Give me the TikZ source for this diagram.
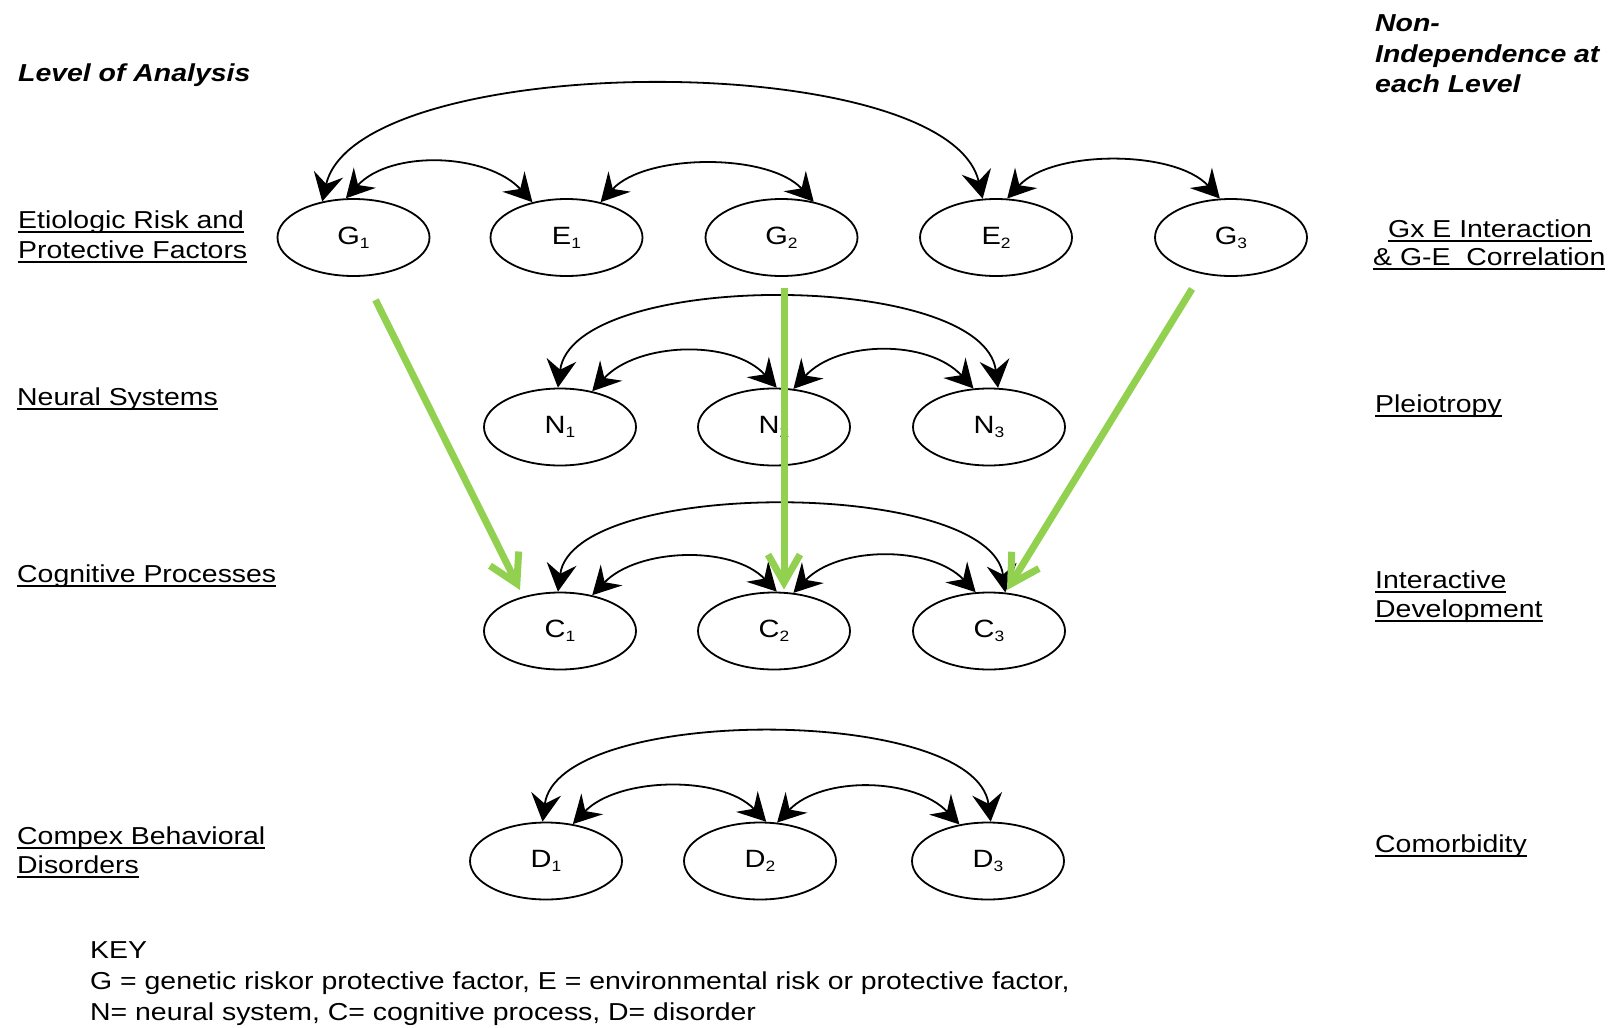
\documentclass[tikz,border=0pt]{standalone}
\usepackage{fontspec}
\setmainfont{Liberation Sans}[FakeStretch=1.16]
\usetikzlibrary{shapes.geometric,arrows.meta,calc}
\definecolor{grn}{RGB}{146,208,80}
\newsavebox\ulbox
\newcommand\myul[1]{\sbox\ulbox{#1}\rlap{\rule[-5pt]{\wd\ulbox}{1.8pt}}\usebox\ulbox}
\newcommand\sub[1]{\raisebox{-4pt}{\fontsize{15}{15}\selectfont #1}}
\begin{document}
\begin{tikzpicture}[x=1pt,y=-1pt,
  lab/.style={anchor=base west,inner sep=0pt,font=\fontsize{24.5}{30}\selectfont},
  hd/.style={anchor=base west,inner sep=0pt,font=\fontsize{24.5}{30}\selectfont\bfseries\itshape},
  ell/.style={draw,ellipse,line width=1.8pt,minimum width=152pt,minimum height=77pt,inner sep=0pt,font=\fontsize{25}{25}\selectfont},
  arc/.style={line width=1.8pt,{Stealth[length=28pt,width=30pt,inset=10pt]}-{Stealth[length=28pt,width=30pt,inset=10pt]}},
  garrow/.style={draw=grn,line width=7pt,-{Straight Barb[length=28pt,width=32pt]}}
]
\fill[white] (0,0) rectangle (1612,1028);
\useasboundingbox (0,0) rectangle (1612,1028);

% ellipses
\node[ell] (G1) at (353.5,237.5) {G\sub{1}};
\node[ell] (E1) at (566.5,237.5) {E\sub{1}};
\node[ell] (G2) at (781.5,237.5) {G\sub{2}};
\node[ell] (E2) at (996,237.5) {E\sub{2}};
\node[ell] (G3) at (1231,237.5) {G\sub{3}};
\node[ell] (N1) at (560,427) {N\sub{1}};
\node[ell] (N2) at (774,427) {N\sub{2}};
\node[ell] (N3) at (989,427) {N\sub{3}};
\node[ell] (C1) at (560,631) {C\sub{1}};
\node[ell] (C2) at (774,631) {C\sub{2}};
\node[ell] (C3) at (989,631) {C\sub{3}};
\node[ell] (D1) at (546,861) {D\sub{1}};
\node[ell] (D2) at (760,861) {D\sub{2}};
\node[ell] (D3) at (988,861) {D\sub{3}};

% black double-headed arcs
\draw[arc] (G1.131) .. controls +(35,-152) and +(-35,-152) .. (E2.109);
\draw[arc] (G1.101) .. controls +(45,-49) and +(-45,-49) .. (E1.134);
\draw[arc] (E1.46) .. controls +(45,-49) and +(-45,-49) .. (G2.48);
\draw[arc] (E2.74) .. controls +(45,-49) and +(-45,-49) .. (G3.106);

\draw[arc] (N1.93) .. controls +(15,-118) and +(-15,-118) .. (N3.77);
\draw[arc] (N1.48) .. controls +(45,-49) and +(-45,-49) .. (N2.86);
\draw[arc] (N2.63) .. controls +(45,-49) and +(-45,-49) .. (N3.112);

\draw[arc] (C1.93) .. controls +(15,-114) and +(-15,-114) .. (C3.67);
\draw[arc] (C1.48) .. controls +(45,-47) and +(-45,-47) .. (C2.86);
\draw[arc] (C2.63) .. controls +(45,-47) and +(-45,-47) .. (C3.109);

\draw[arc] (D1.95) .. controls +(15,-117) and +(-15,-117) .. (D3.86);
\draw[arc] (D1.54) .. controls +(45,-47) and +(-45,-47) .. (D2.81);
\draw[arc] (D2.66) .. controls +(45,-47) and +(-45,-47) .. (D3.128);

% green arrows
\coordinate (s1) at ($(G1.south)+(22,23)$);
\coordinate (t1) at ($(C1.center)+(-40,-41)$);
\coordinate (s2) at ($(G2.south)+(2.5,11)$);
\coordinate (t2) at ($(s2 |- C2.north)+(0,-2)$);
\coordinate (s3) at ($(G3.south)+(-39,12)$);
\coordinate (t3) at ($(C3.center)+(18,-41)$);
\draw[garrow] (s1) -- (t1);
\draw[garrow] (s2) -- (t2);
\draw[garrow] (s3) -- (t3);

% labels
\node[hd] (loa) at (18,81) {Level of Analysis};
\node[hd] (ni1) at (1375,31) {Non-};
\node[hd] (ni2) at (1375,62) {Independence at};
\node[hd] (ni3) at (1375,92) {each Level};
\node[lab] (et1) at (18,228) {\myul{Etiologic Risk and}};
\node[lab] (et2) at (18,258) {\myul{Protective Factors}};
\node[lab] (gx1) at (1388,237) {\myul{Gx E Interaction}};
\node[lab] (gx2) at (1373,265) {\myul{\& G-E\ \ Correlation}};
\node[lab] (ns) at (17,405) {\myul{Neural Systems}};
\node[lab] (pl) at (1375,412) {\myul{Pleiotropy}};
\node[lab] (cp) at (17,582) {\myul{Cognitive Processes}};
\node[lab] (id1) at (1375,588) {\myul{Interactive}};
\node[lab] (id2) at (1375,617) {\myul{Development}};
\node[lab] (cb1) at (17,844) {\myul{Compex Behavioral}};
\node[lab] (cb2) at (17,873) {\myul{Disorders}};
\node[lab] (cm) at (1375,852) {\myul{Comorbidity}};
\node[lab] (k0) at (90,958) {KEY};
\node[lab] (k1) at (90,989) {G = genetic riskor protective factor, E = environmental risk or protective factor,};
\node[lab] (k2) at (90,1020) {N= neural system, C= cognitive process, D= disorder};
\end{tikzpicture}
\end{document}
